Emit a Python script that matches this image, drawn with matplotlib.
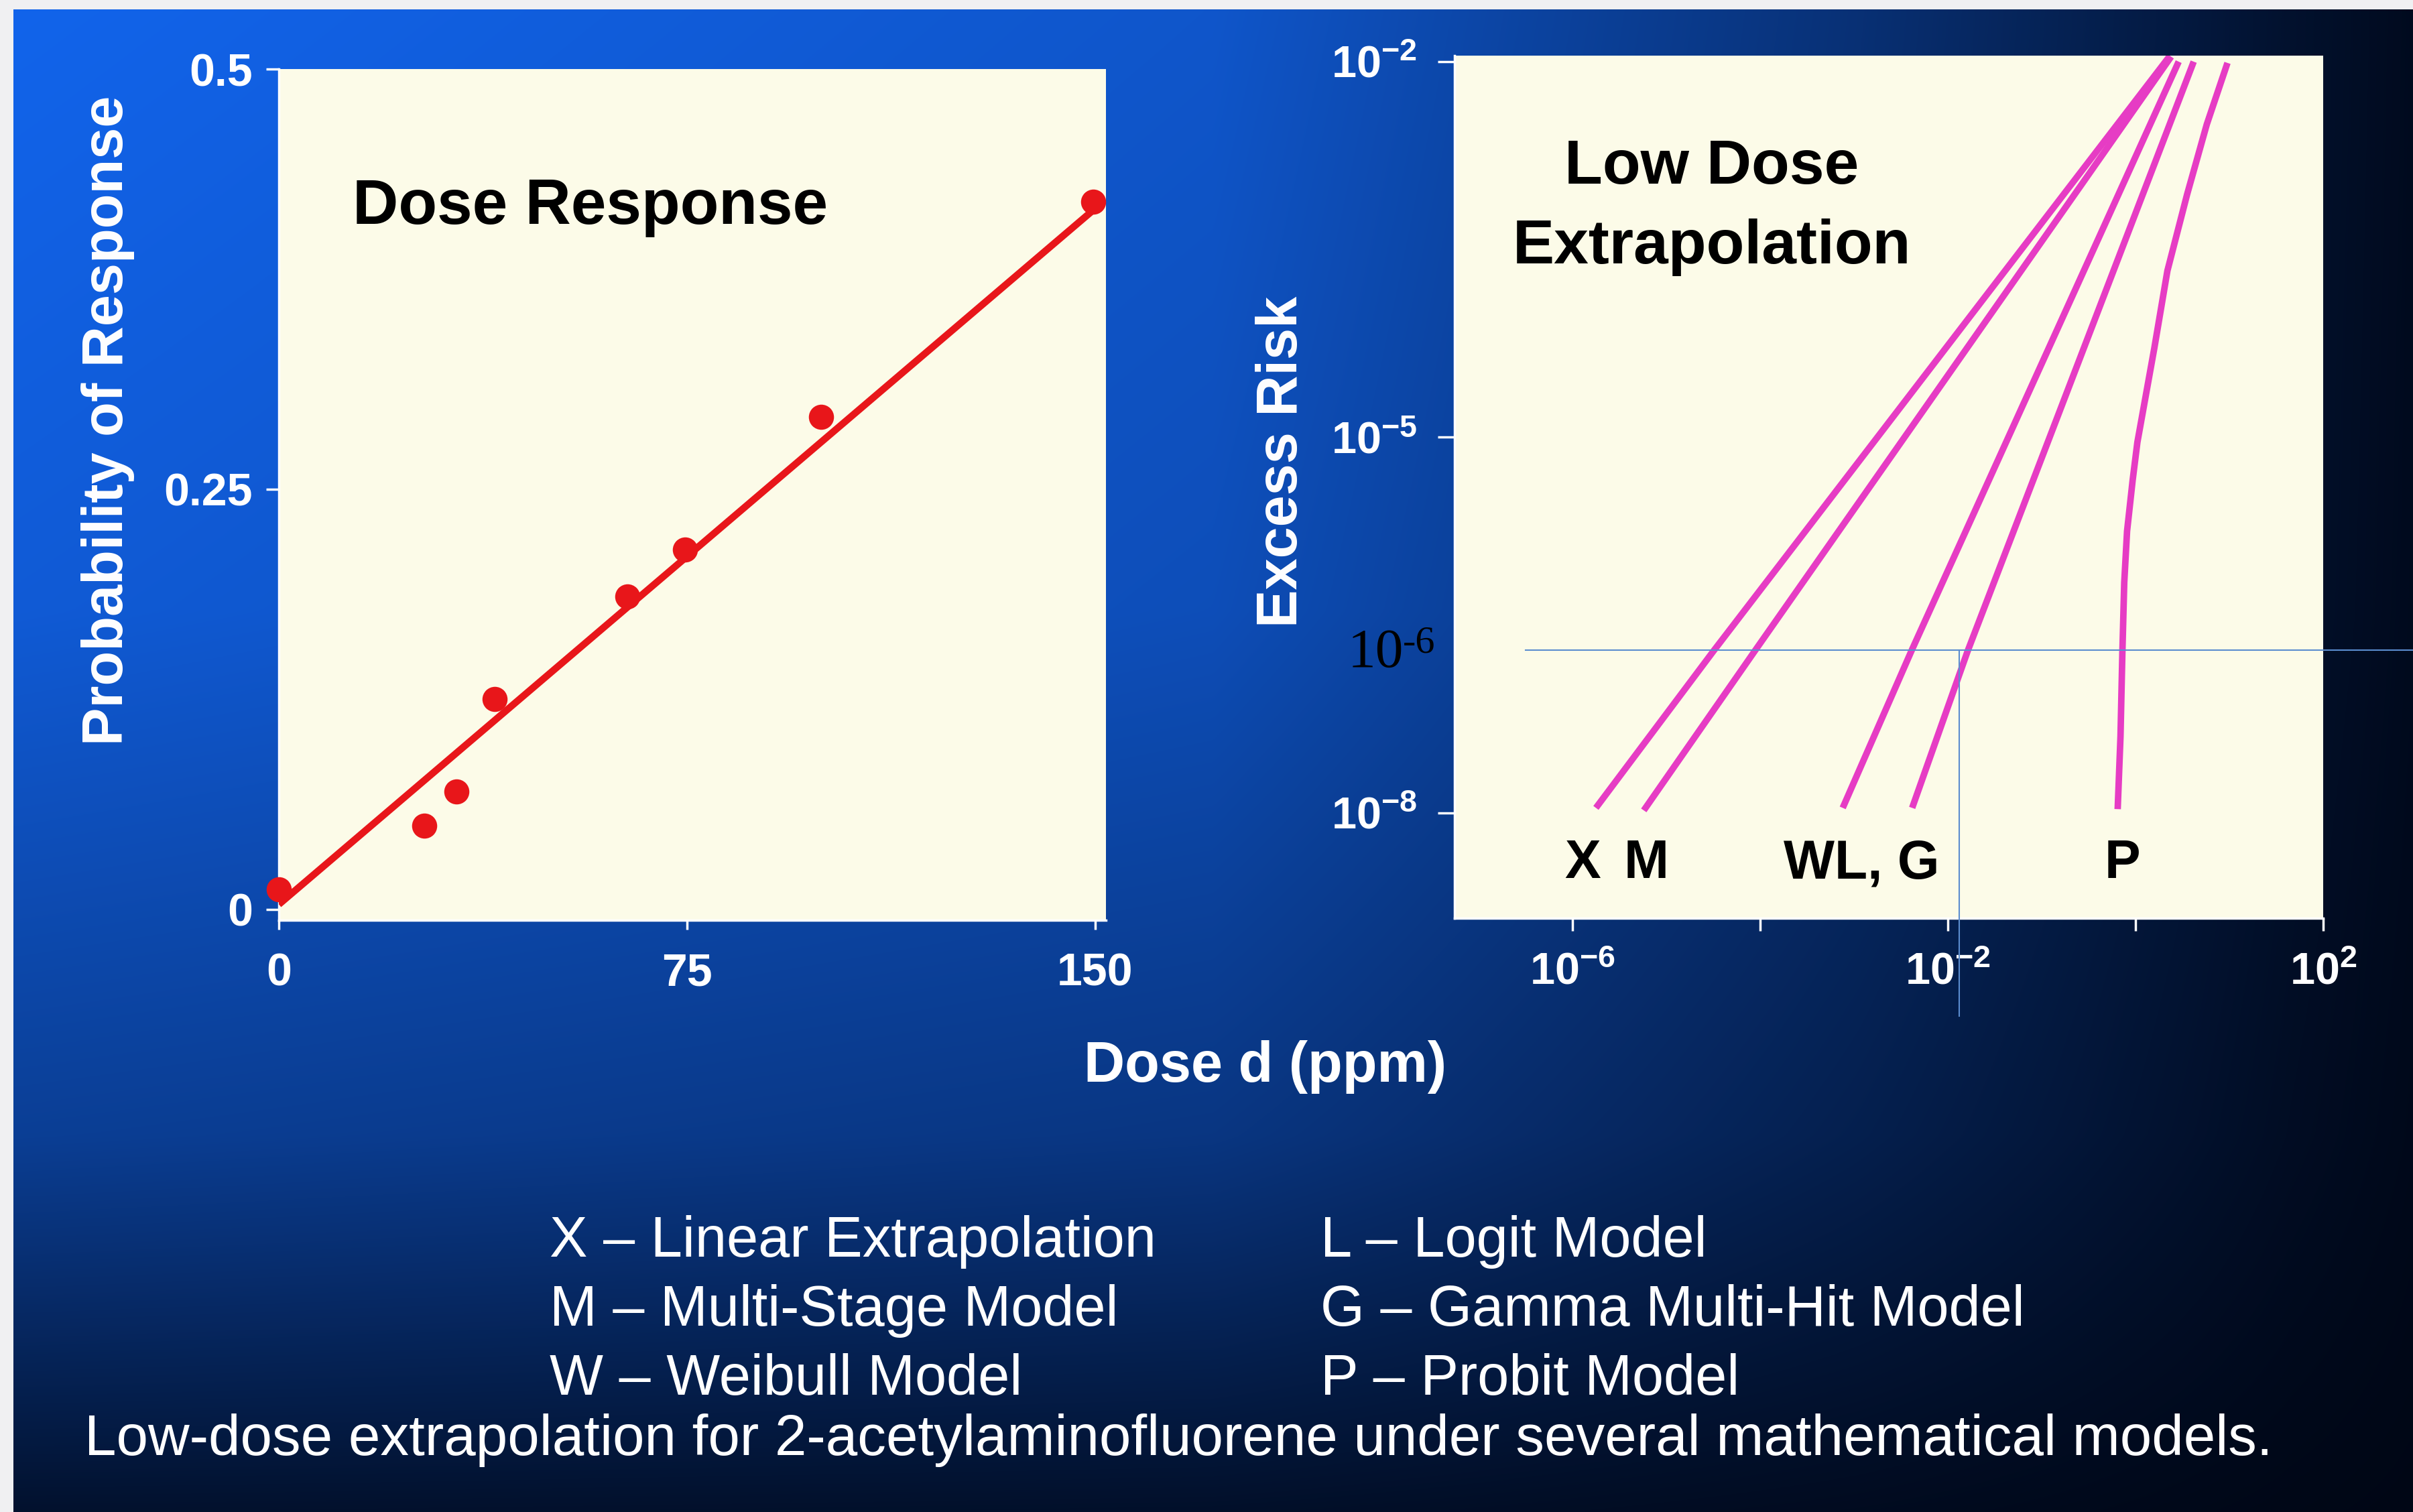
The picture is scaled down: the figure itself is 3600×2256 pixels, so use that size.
import numpy as np
import matplotlib.pyplot as plt

plt.rcParams['font.family'] = ['Liberation Sans', 'DejaVu Sans']
plt.rcParams['font.weight'] = 'bold'
plt.rcParams['axes.labelweight'] = 'bold'
plt.rcParams['mathtext.default'] = 'regular'

# dose-response data (ppm, probability of response)
dose_ppm = [0, 26.7, 32.6, 39.7, 64.0, 74.6, 99.6, 149.6]
p_response = [0.012, 0.050, 0.070, 0.125, 0.186, 0.214, 0.293, 0.421]
fit_dose = [0, 150]
fit_p = [0.003, 0.417]

# low-dose extrapolation curves, stored as log10(dose), log10(excess risk)
curves = {
    'X': ([-5.75, -4.50, 0.36], [-7.96, -6.71, -1.96]),
    'M': ([-5.24, -4.06, 0.38], [-7.98, -6.71, -1.96]),
    'W': ([-3.12, -2.39, 0.46], [-7.96, -6.71, -2.00]),
    'G': ([-2.38, -1.79, 0.62], [-7.96, -6.71, -2.00]),
    'P': ([-0.19, -0.16, -0.14, -0.12, -0.09, -0.03, 0.02, 0.20, 0.34, 0.55, 0.76, 0.98],
          [-7.97, -7.39, -6.72, -6.16, -5.75, -5.34, -5.04, -4.29, -3.67, -3.06, -2.50, -2.01]),
}
curve_labels = ['X', 'M', 'WL, G', 'P']
curve_label_logd = [-5.89, -5.21, -2.92, -0.14]
curve_label_logr = -8.52

left_xticks = [0, 75, 150]
left_yticks = [0, 0.25, 0.5]
left_yticklabels = ['0', '0.25', '0.5']
right_xticks = [1e-6, 1e-4, 1e-2, 1e0, 1e2]
right_xticklabels = [r'$10^{-6}$', '', r'$10^{-2}$', '', r'$10^{2}$']
right_yticks = [1e-8, 1e-5, 1e-2]
right_yticklabels = [r'$10^{-8}$', r'$10^{-5}$', r'$10^{-2}$']

# hand-drawn guide at the 10^-6 mark
guide_risk = 10 ** -6.7
guide_dose = 10 ** -1.88

legend_left = ['X \u2013 Linear Extrapolation', 'M \u2013 Multi-Stage Model', 'W \u2013 Weibull Model']
legend_right = ['L \u2013 Logit Model', 'G \u2013 Gamma Multi-Hit Model', 'P \u2013 Probit Model']
caption = 'Low-dose extrapolation for 2-acetylaminofluorene under several mathematical models.'

cream = '#fcfbe8'
red = '#e8161a'
magenta = '#e63cc4'
guide_blue = '#5b8dcf'

fig = plt.figure(figsize=(36, 22.56), dpi=100, facecolor='#f0f0f2')

# slide background: blue fading to near-black towards the right and bottom
u = np.linspace(0, 1, 720)
v = np.linspace(0, 1, 450)
fade_x = np.interp(u, [0, 0.5, 0.77, 0.95, 1.0], [1.0, 0.85, 0.45, 0.12, 0.05])
fade_y = np.interp(v, [0, 0.4, 0.75, 0.88, 1.0], [1.0, 0.9, 0.6, 0.35, 0.12])
k = fade_y[:, None] * fade_x[None, :]
bright = np.array([18, 100, 235]) / 255
dark = np.array([0, 6, 20]) / 255
img = dark + (bright - dark) * k[..., None]
bg = fig.add_axes([20 / 3600, 0, 1 - 20 / 3600, 1 - 14 / 2256])
bg.imshow(img, aspect='auto', interpolation='bilinear')
bg.axis('off')

# left panel: dose response
ax1 = fig.add_axes([0.11556, 0.39140, 0.34278, 0.56294])
ax1.set_facecolor(cream)
ax1.plot(fit_dose, fit_p, color=red, lw=7.5, solid_capstyle='butt', zorder=3)
ax1.plot(dose_ppm, p_response, 'o', color=red, ms=27, mec='none', zorder=4, clip_on=False)
ax1.set_xlim(0, 152)
ax1.set_ylim(-0.0064, 0.5)
ax1.set_xticks(left_xticks)
ax1.set_yticks(left_yticks, left_yticklabels)
for side in ['top', 'right']:
    ax1.spines[side].set_visible(False)
for side in ['left', 'bottom']:
    ax1.spines[side].set_color('white')
    ax1.spines[side].set_linewidth(2.5)
ax1.tick_params(axis='y', colors='white', length=14, width=2.5, pad=14, labelsize=49)
ax1.tick_params(axis='x', colors='white', length=10, width=2.5, pad=24, labelsize=49)
ax1.set_ylabel('Probability of Response', color='white', fontsize=61, va='center')
ax1.yaxis.set_label_coords(-0.2066, 0.587)
ax1.text(13.5, 0.408, 'Dose Response', fontsize=68, color='black', va='baseline')

# right panel: low dose extrapolation on log-log axes
ax2 = fig.add_axes([0.60278, 0.39273, 0.36, 0.57048])
ax2.set_facecolor(cream)
ax2.set_xscale('log')
ax2.set_yscale('log')
for name, (logd, logr) in curves.items():
    ax2.plot(10 ** np.array(logd), 10 ** np.array(logr), color=magenta, lw=7,
             solid_capstyle='butt', solid_joinstyle='round')
for lbl, ld in zip(curve_labels, curve_label_logd):
    ax2.text(10 ** ld, 10 ** curve_label_logr, lbl, fontsize=58, color='black',
             ha='center', va='baseline')
ax2.set_xlim(10 ** -7.257, 1e2)
ax2.set_ylim(10 ** -8.841, 10 ** -1.952)
ax2.set_xticks(right_xticks, right_xticklabels)
ax2.set_yticks(right_yticks, right_yticklabels)
ax2.minorticks_off()
for side in ['top', 'right']:
    ax2.spines[side].set_visible(False)
for side in ['left', 'bottom']:
    ax2.spines[side].set_color('white')
    ax2.spines[side].set_linewidth(2.5)
ax2.tick_params(axis='y', colors='white', length=18, width=2.5, pad=22, labelsize=48)
ax2.tick_params(axis='x', colors='white', length=14, width=2.5, pad=22, labelsize=48)
ax2.set_ylabel('Excess Risk', color='white', fontsize=61, va='center')
ax2.yaxis.set_label_coords(-0.198, 0.529)
ax2.text(0.296, 0.8516, 'Low Dose', transform=ax2.transAxes, fontsize=67,
         ha='center', va='baseline')
ax2.text(0.296, 0.759, 'Extrapolation', transform=ax2.transAxes, fontsize=67,
         ha='center', va='baseline')

# guide lines and serif label for the 10^-6 level
ax2.plot([10 ** -6.5, 10 ** 2.96], [guide_risk, guide_risk], color=guide_blue,
         lw=1.5, clip_on=False, zorder=5)
ax2.plot([guide_dose, guide_dose], [guide_risk, 10 ** -9.62], color=guide_blue,
         lw=1.5, clip_on=False, zorder=5)
fig.text(2011 / 3600, 1 - 995 / 2256, '10', family='Liberation Serif',
         fontweight='normal', fontsize=60, color='black', va='baseline')
fig.text(2093 / 3600, 1 - 973 / 2256, '-6', family='Liberation Serif',
         fontweight='normal', fontsize=42, color='black', va='baseline')

fig.text(0.5242, 1 - 1592 / 2256, 'Dose d (ppm)', color='white', fontsize=61,
         ha='center', va='center')

# model key and caption
for i, (a, b) in enumerate(zip(legend_left, legend_right)):
    y = 1 - (1875 + 103 * i) / 2256
    fig.text(820 / 3600, y, a, color='white', fontsize=61, fontweight='normal', va='baseline')
    fig.text(1970 / 3600, y, b, color='white', fontsize=61, fontweight='normal', va='baseline')
fig.text(126 / 3600, 1 - 2171 / 2256, caption, color='white', fontsize=61.5,
         fontweight='normal', va='baseline')

fig.savefig('out.png', dpi=100, facecolor=fig.get_facecolor())
